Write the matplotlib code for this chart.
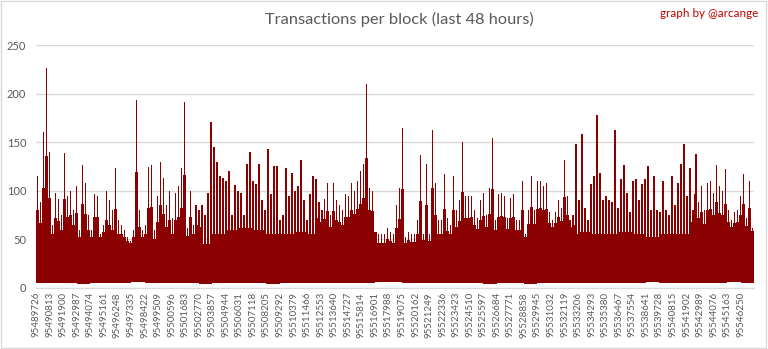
import numpy as np
import matplotlib
matplotlib.use("Agg")
import matplotlib.pyplot as plt
from matplotlib.patches import Rectangle

# -----------------------------
# Data
# -----------------------------
BLOCK_START = 95489726
BLOCK_COUNT = 57600          # 48 hours of 3-second blocks
LABEL_STEP = 1087            # block gap between x tick labels

# peak transactions per block, one value per ~240-block slice
peaks = [
    115, 88, 160, 226, 140, 65, 98, 92, 75, 139, 95, 100, 80, 105, 60, 127, 108, 75, 60, 97,
    95, 55, 65, 100, 90, 80, 123, 70, 65, 60, 52, 48, 60, 193, 80, 60, 65, 124, 127, 60,
    95, 130, 113, 85, 100, 72, 98, 105, 123, 191, 62, 100, 65, 85, 80, 85, 75, 98, 171, 145,
    130, 115, 113, 110, 120, 75, 106, 100, 98, 75, 128, 140, 110, 107, 128, 90, 80, 143, 97, 125,
    125, 70, 75, 123, 95, 118, 100, 105, 132, 90, 70, 97, 115, 112, 88, 80, 92, 108, 75, 108,
    90, 85, 80, 97, 95, 108, 100, 110, 120, 128, 210, 103, 100, 58, 55, 55, 55, 62, 58, 55,
    85, 103, 165, 52, 58, 55, 55, 70, 137, 56, 128, 55, 163, 108, 70, 70, 117, 72, 65, 115,
    80, 90, 150, 95, 95, 95, 80, 72, 90, 98, 75, 103, 154, 70, 97, 98, 95, 72, 93, 97,
    70, 70, 110, 55, 80, 115, 80, 110, 110, 105, 108, 78, 70, 78, 90, 82, 132, 95, 70, 75,
    148, 90, 158, 82, 70, 107, 115, 178, 118, 90, 95, 90, 88, 163, 82, 112, 127, 98, 78, 110,
    112, 90, 107, 112, 125, 80, 115, 80, 78, 110, 80, 75, 115, 85, 108, 128, 148, 95, 123, 80,
    138, 88, 105, 80, 108, 110, 98, 127, 105, 100, 122, 80, 70, 78, 80, 95, 117, 72, 110, 62,
]

# solid "body" level and bottom level, one value per label interval
body = [
    45, 45, 50, 45, 50, 40, 45, 45, 40, 40, 42, 45, 45, 55, 60, 62, 60, 55, 55, 58,
    55, 50, 50, 52, 58, 38, 38, 40, 42, 42, 45, 48, 50, 50, 50, 50, 52, 55, 55, 55,
    58, 55, 55, 58, 55, 52, 55, 55, 55, 52, 50, 55, 55,
]
lows = [
    5, 5, 5, 4, 5, 5, 5, 6, 5, 5, 5, 5, 4, 5, 5, 5, 5, 4, 5, 5,
    5, 5, 5, 5, 5, 6, 6, 5, 5, 5, 5, 5, 5, 4, 5, 5, 4, 5, 5, 5,
    5, 5, 5, 5, 5, 6, 5, 5, 5, 5, 5, 6, 5,
]

RED = "#8b0000"
GREY = "#595959"
GRID = "#d9d9d9"
FONT = "Lato"

# -----------------------------
# Plot
# -----------------------------
fig = plt.figure(figsize=(7.68, 3.49), dpi=100)
ax = fig.add_axes([0.047, 0.175, 0.935, 0.696])

n = len(peaks)
slice_w = BLOCK_COUNT / n
peak_x = BLOCK_START + (np.arange(n) + 0.5) * slice_w
body_x = BLOCK_START + np.arange(len(body)) * LABEL_STEP

# solid lower part
ax.bar(body_x, np.array(body) - np.array(lows), bottom=lows, width=LABEL_STEP,
       align="edge", color=RED, linewidth=0, zorder=2)

# each slice: wide shoulder for the busy half, thin spike for the single top block
slice_body = np.array(body)[np.minimum((np.arange(n) * slice_w) // LABEL_STEP, len(body) - 1).astype(int)]
pk = np.array(peaks, dtype=float)
shoulder = slice_body + 0.5 * (pk - slice_body)
ax.bar(peak_x, shoulder - 15, bottom=15, width=slice_w * 0.9,
       color=RED, linewidth=0, zorder=2)
ax.bar(peak_x, pk - 15, bottom=15, width=slice_w * 0.45,
       color=RED, linewidth=0, zorder=2)

ax.set_xlim(BLOCK_START, BLOCK_START + BLOCK_COUNT)
ax.set_ylim(0, 250)
ax.set_yticks(range(0, 251, 50))
ax.grid(axis="y", color=GRID, linewidth=1, zorder=0)
ax.set_axisbelow(True)

ticks = [BLOCK_START + k * LABEL_STEP for k in range(53)]
ax.set_xticks(ticks)
ax.set_xticklabels([str(t) for t in ticks], rotation=90, fontsize=7,
                   color=GREY, family=FONT)
for lab in ax.get_yticklabels():
    lab.set_fontsize(8)
    lab.set_color(GREY)
    lab.set_family(FONT)
ax.tick_params(axis="x", length=0, pad=3)
ax.tick_params(axis="y", length=0, pad=7)

for side in ["top", "right", "left"]:
    ax.spines[side].set_visible(False)
ax.spines["bottom"].set_color(GRID)

fig.text(0.52, 0.945, "Transactions per block (last 48 hours)", ha="center",
         va="center", fontsize=11.8, color=GREY, family=FONT)
fig.text(0.987, 0.962, "graph by @arcange", ha="right", va="center",
         fontsize=8.4, color="#c00000", family=FONT)

fig.patches.append(Rectangle((0.001, 0.002), 0.997, 0.995, transform=fig.transFigure,
                             fill=False, edgecolor=GRID, linewidth=1))

fig.savefig("out.png", dpi=100)
